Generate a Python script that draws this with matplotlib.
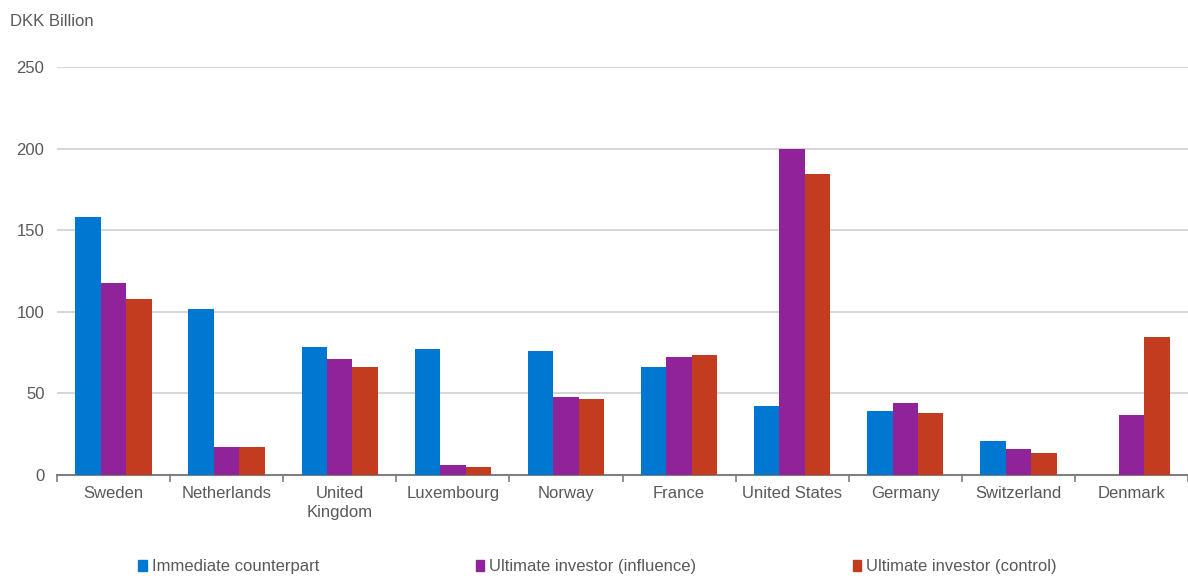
import numpy as np
import matplotlib.pyplot as plt
from matplotlib.patches import Patch

plt.rcParams['font.family'] = ['Liberation Sans', 'DejaVu Sans']

# Data (DKK billion)
countries = ['Sweden', 'Netherlands', 'United\nKingdom', 'Luxembourg', 'Norway',
             'France', 'United States', 'Germany', 'Switzerland', 'Denmark']
immediate = [158, 102, 78.5, 77, 76, 66, 42, 39, 21, 0]
influence = [117.5, 17, 71, 6, 48, 72, 200, 44, 16, 37]
control = [108, 17, 66, 5, 46.5, 73.5, 184.5, 38, 13.5, 84.5]

series_names = ['Immediate counterpart', 'Ultimate investor (influence)',
                'Ultimate investor (control)']
colors = ['#0078d2', '#90229a', '#c33c20']
grey = '#595959'
fs = 12

fig = plt.figure(figsize=(11.88, 5.76), dpi=100)
ax = fig.add_axes([57 / 1188, 1 - 475 / 576, 1 - 57 / 1188, (475 - 67) / 576])

x = np.arange(len(countries))
w = 0.225
for i, vals in enumerate([immediate, influence, control]):
    ax.bar(x + (i - 1) * w, vals, width=w, color=colors[i], zorder=3)

ax.set_xlim(-0.5, len(countries) - 0.5)
ax.set_ylim(0, 250)
ax.set_yticks([0, 50, 100, 150, 200, 250])
ax.yaxis.grid(True, color='#d0d0d0', linewidth=1.2, zorder=0)
for s in ['top', 'right', 'left']:
    ax.spines[s].set_visible(False)
ax.spines['bottom'].set_color('#7f7f7f')
ax.spines['bottom'].set_linewidth(1.5)

# ticks between categories
ax.set_xticks(np.arange(-0.5, len(countries), 1.0))
ax.set_xticklabels([])
ax.tick_params(axis='x', length=5, width=1.2, color='#7f7f7f')
ax.set_xticks(x, minor=True)
ax.set_xticklabels(countries, minor=True, fontsize=fs, color=grey, linespacing=1.35)
ax.tick_params(axis='x', which='minor', length=0, pad=8)
ax.tick_params(axis='y', length=0, labelsize=fs, labelcolor=grey, pad=9)

fig.text(10 / 1188, 1 - 21 / 576, 'DKK Billion', fontsize=fs, color=grey, va='center')

handles = [Patch(color=c) for c in colors]
fig.legend(handles, series_names, loc='center', bbox_to_anchor=(0.503, 1 - 567 / 576),
           ncol=3, frameon=False, fontsize=fs, labelcolor=grey,
           handlelength=0.5, handleheight=0.6, handletextpad=0.3, columnspacing=9.4)

fig.savefig('out.png', dpi=100)
